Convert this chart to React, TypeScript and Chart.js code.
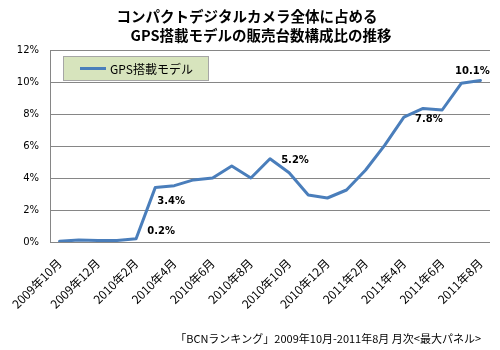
import React, { useEffect, useRef } from "react";
import { Chart, registerables } from "chart.js";

Chart.register(...registerables);

const months: string[] = [
  "2009年10月", "2009年11月", "2009年12月", "2010年1月", "2010年2月", "2010年3月",
  "2010年4月", "2010年5月", "2010年6月", "2010年7月", "2010年8月", "2010年9月",
  "2010年10月", "2010年11月", "2010年12月", "2011年1月", "2011年2月", "2011年3月",
  "2011年4月", "2011年5月", "2011年6月", "2011年7月", "2011年8月",
];

const gpsShare: number[] = [
  0.05, 0.12, 0.1, 0.1, 0.2, 3.4, 3.52, 3.88, 4.0, 4.75, 4.0, 5.2,
  4.33, 2.94, 2.75, 3.25, 4.5, 6.06, 7.8, 8.35, 8.25, 9.92, 10.1,
];

const labeledIndices: number[] = [4, 5, 11, 18, 22];
const labelOffsets: [number, number][] = [
  [25, -7], [16, 14], [25, 2], [25, 2], [-8, -9],
];

const titleLines: string[] = [
  "コンパクトデジタルカメラ全体に占める",
  "GPS搭載モデルの販売台数構成比の推移",
];
const seriesName = "GPS搭載モデル";
const sourceText = "「BCNランキング」2009年10月-2011年8月 月次<最大パネル>";

const LINE_COLOR = "#4a7ebb";
const GRID_COLOR = "#868686";
const JP_FONT = '"Noto Sans CJK JP", sans-serif';

const decorPlugin = {
  id: "decor",
  afterDraw(chart: any) {
    const ctx = chart.ctx as CanvasRenderingContext2D;
    const area = chart.chartArea;
    ctx.save();
    // Title
    ctx.fillStyle = "#000";
    ctx.textAlign = "center";
    ctx.textBaseline = "middle";
    ctx.font = `bold 14.5px ${JP_FONT}`;
    ctx.fillText(titleLines[0], 247, 16);
    ctx.fillText(titleLines[1], 261, 35);

    // Source
    ctx.font = `11px ${JP_FONT}`;
    ctx.textAlign = "right";
    ctx.fillText(sourceText, 481, 339);

    // Legend box
    const lx = area.left + 13;
    const ly = area.top + 6;
    ctx.fillStyle = "#d7e4bd";
    ctx.fillRect(lx, ly, 145, 24);
    ctx.strokeStyle = "#a6a6a6";
    ctx.lineWidth = 1;
    ctx.strokeRect(lx + 0.5, ly + 0.5, 145, 24);
    ctx.strokeStyle = LINE_COLOR;
    ctx.lineWidth = 3;
    ctx.beginPath();
    ctx.moveTo(lx + 17, ly + 12.5);
    ctx.lineTo(lx + 43, ly + 12.5);
    ctx.stroke();
    ctx.fillStyle = "#000";
    ctx.textAlign = "left";
    ctx.font = `12px ${JP_FONT}`;
    ctx.fillText(seriesName, lx + 47, ly + 13);

    // Data labels
    const meta = chart.getDatasetMeta(0);
    ctx.font = 'bold 10px "DejaVu Sans", sans-serif';
    ctx.textAlign = "center";
    labeledIndices.forEach((idx, i) => {
      const pt = meta.data[idx];
      const [dx, dy] = labelOffsets[i];
      const v = chart.data.datasets[0].data[idx] as number;
      ctx.fillText(v.toFixed(1) + "%", pt.x + dx, pt.y + dy);
    });
    ctx.restore();
  },
};

export default function App() {
  const ref = useRef<HTMLCanvasElement | null>(null);
  useEffect(() => {
    if (!ref.current) return;
    const chart = new Chart(ref.current, {
      type: "line",
      data: {
        labels: months,
        datasets: [
          {
            label: seriesName,
            data: gpsShare,
            borderColor: LINE_COLOR,
            backgroundColor: LINE_COLOR,
            borderWidth: 3,
            pointRadius: 0,
            tension: 0,
            borderJoinStyle: "round",
            borderCapStyle: "round",
          },
        ],
      },
      options: {
        responsive: false,
        animation: false,
        layout: { padding: { top: 50, left: 0, right: 10, bottom: 0 } },
        plugins: {
          legend: { display: false },
          title: { display: false },
          tooltip: { enabled: false },
        },
        scales: {
          x: {
            offset: true,
            grid: { display: false, drawTicks: false },
            border: { display: false },
            ticks: {
              autoSkip: false,
              minRotation: 45,
              maxRotation: 45,
              padding: 14,
              color: "#000",
              font: { family: JP_FONT, size: 12 },
              callback: (_v: any, i: number) => (i % 2 === 0 ? months[i] : ""),
            },
            afterFit: (s: any) => {
              s.height = 108;
              s.paddingLeft = 0;
              s.paddingRight = 0;
            },
          },
          y: {
            min: 0,
            max: 12,
            grid: { color: GRID_COLOR, drawTicks: false },
            border: { display: true, color: GRID_COLOR },
            ticks: {
              stepSize: 2,
              padding: 11,
              color: "#000",
              font: { family: '"DejaVu Sans", sans-serif', size: 10 },
              callback: (v: any) => v + "%",
            },
            afterFit: (s: any) => {
              s.width = 50;
            },
          },
        },
      },
      plugins: [decorPlugin],
    });
    return () => chart.destroy();
  }, []);
  return (
    <div style={{ position: "absolute", left: 0, top: 0, width: 500, height: 350, background: "#fff" }}>
      <canvas ref={ref} width={500} height={350} />
    </div>
  );
}
